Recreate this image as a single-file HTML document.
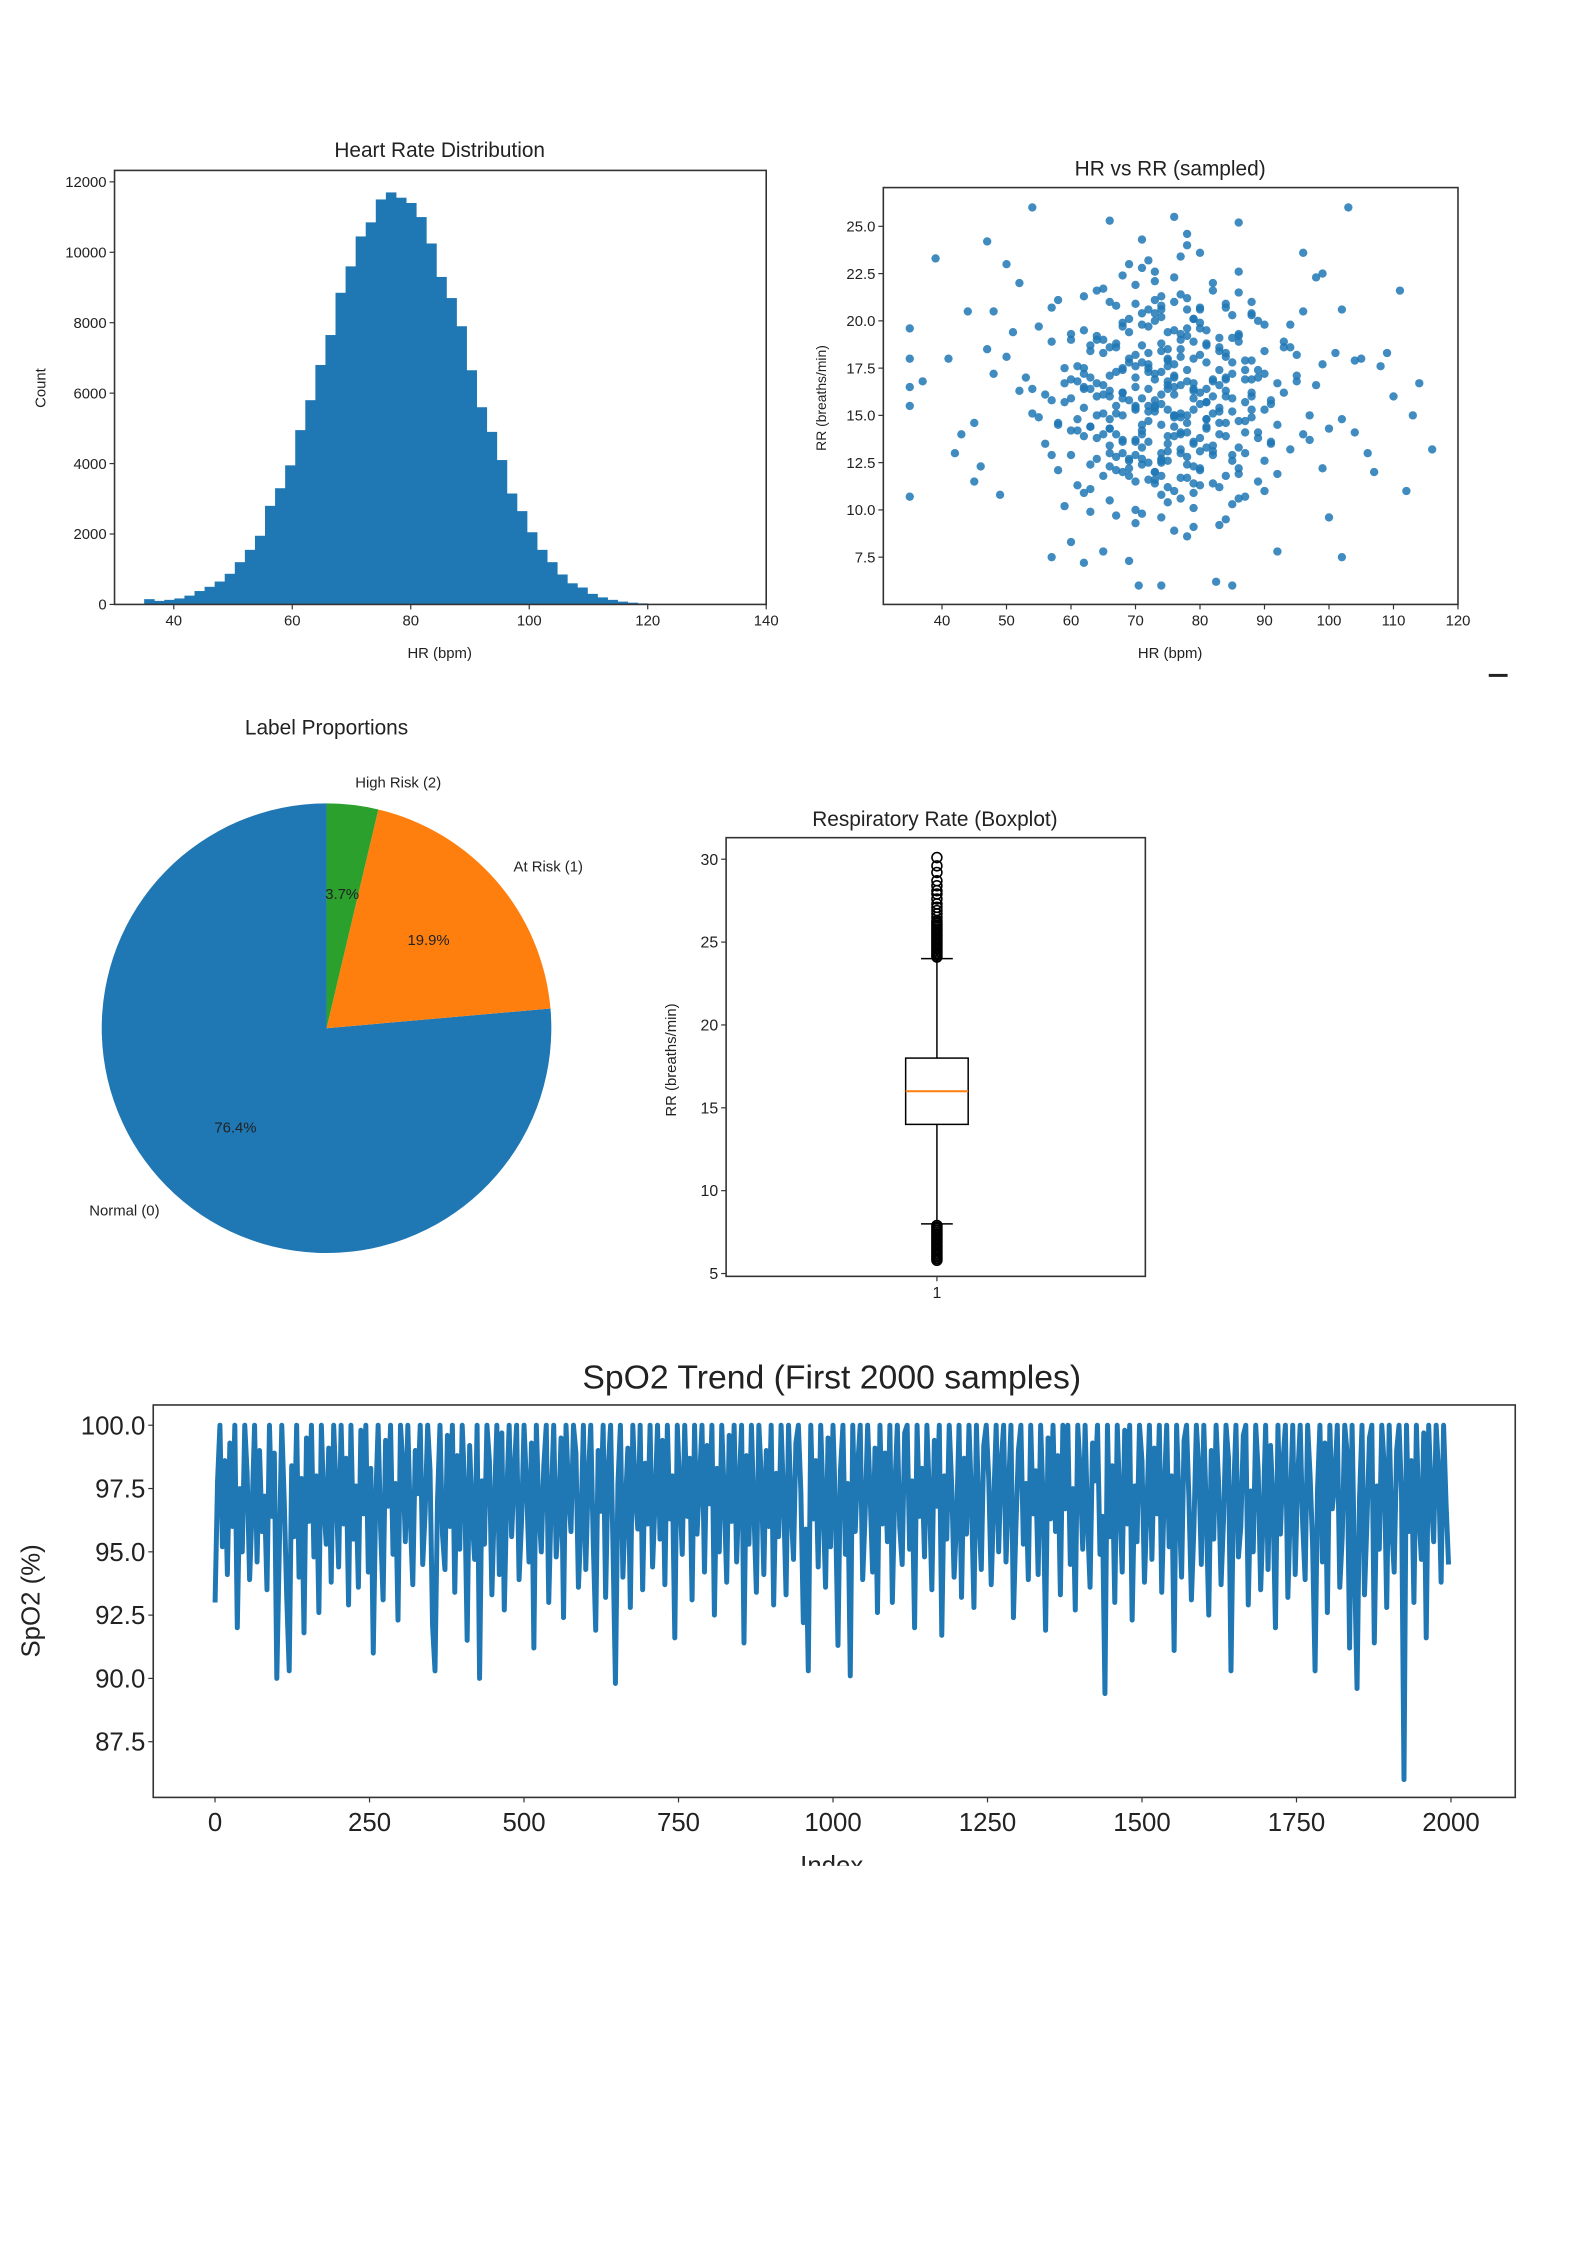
<!DOCTYPE html>
<html><head><meta charset="utf-8"><style>
html,body{margin:0;padding:0;background:#fff;}
svg{display:block;}
text{font-family:"Liberation Sans Narrow","Liberation Sans",sans-serif;fill:#222;}
</style></head><body>
<svg id="fig" width="1587" height="2245" viewBox="0 0 1587 2245" xmlns="http://www.w3.org/2000/svg">
<rect x="0" y="0" width="1587" height="2245" fill="#fff"/>
<g transform="scale(0.9925)">
<g id="hist"></g>
<g id="scat"></g>
<g id="pie"></g>
<g id="box"></g>
<g id="spo2"></g>
<rect x="1500" y="679" width="19" height="3" fill="#222"/>
</g>
</svg>
<script>
const histStart = 35, histBinWidth = 1.7;
const histCounts = [150,100,130,170,250,380,500,650,870,1200,1550,1950,2800,3300,3950,4950,5800,6800,7650,8850,9600,10450,10850,11500,11700,11550,11400,11000,10250,9300,8700,7900,6650,5600,4900,4100,3150,2650,2050,1550,1200,850,600,480,300,200,130,80,50,30];
const histXTicks = [40,60,80,100,120,140];
const histYTicks = [0,2000,4000,6000,8000,10000,12000];

const scatHR = [74,66,81,70,78,62,87,72,76,59, 84,69,91,65,79,73,57,83,68,77, 71,88,63,80,75,54,86,67,78,82, 64,93,72,76,61,85,70,89,58,74, 80,67,96,73,77,62,84,71,52,87, 69,79,75,66,90,74,60,83,72,81, 56,78,88,70,65,94,76,82,63,73, 85,68,77,59,91,72,80,66,99,75, 62,86,71,79,48,83,74,68,89,76, 81,64,92,70,77,57,84,73,67,95, 73,60,87,78,66,82,71,100,75,63, 79,69,85,53,90,74,61,80,72,88, 65,76,83,70,97,58,78,68,86,74, 82,71,64,89,75,50,80,67,93,77, 62,85,73,79,68,102,76,59,84,71, 88,66,78,74,91,63,81,70,55,86, 72,80,67,95,76,60,83,69,78,90, 74,64,87,57,79,71,98,66,82,75, 61,84,70,77,45,89,73,81,68,94, 78,65,86,72,80,58,92,75,63,83, 70,97,76,67,85,73,51,88,79,62, 81,74,66,90,69,77,104,60,84,72, 87,64,79,75,56,82,71,93,68,78, 73,85,61,80,74,96,66,77,89,70, 83,59,76,68,91,72,79,47,86,64, 75,81,69,88,62,78,99,73,58,84, 71,94,65,77,80,54,87,74,67,82, 76,63,90,70,85,79,108,60,73,88, 68,78,55,83,72,92,66,81,75,101, 86,62,74,79,69,95,77,57,84,71, 35,35,35,35,35,54,103,116,114,70.5, 74,82.5,85,39,47,112,111,102,92,37, 41,44,43,46,106,109,110,105,107,113, 66,76,86,62,57,50,52,99,100,104, 42,48,45,49,96,102,98,60,65,69,
72,78,68,83,75,70,80,65,77,86, 74,69,81,63,76,84,71,79,66,73, 77,85,67,72,80,62,75,88,70,82, 69,76,83,74,64,79,87,71,78,66, 81,73,68,86,75,61,77,84,70,79, 65,82,74,78,88,71,67,80,76,63, 75,70,84,66,79,73,86,62,81,77, 72,89,68,76,64,83,74,80,69,85, 78,67,82,71,60,75,87,73,79,65, 84,70,76,63,81,74,68,90,77,72];
const scatRR = [16.1,14.3,17.8,12.9,19.2,15.4,13.0,18.3,15.0,16.7, 14.6,20.1,15.8,11.8,13.6,17.2,18.9,11.2,15.9,21.4, 13.3,17.9,16.4,20.6,10.4,15.1,12.2,18.6,14.1,16.9, 12.7,16.2,19.7,14.9,17.6,20.3,11.5,13.8,14.5,17.3, 12.1,15.5,14.0,22.1,16.6,19.5,17.0,9.8,16.3,15.7, 18.0,10.9,13.9,16.0,18.4,20.8,14.2,19.1,12.5,14.4, 13.5,17.4,21.0,15.3,21.7,13.2,11.0,16.8,18.7,15.8, 12.6,19.9,18.1,10.2,15.6,14.7,13.1,17.1,17.7,19.4, 16.4,10.6,20.4,12.3,17.2,15.2,9.6,13.7,20.0,16.5, 18.8,15.0,11.9,17.6,14.1,20.7,16.0,22.6,12.8,18.2, 11.4,19.3,17.4,21.2,14.8,13.4,15.9,14.3,18.5,11.1, 15.3,23.0,12.9,17.0,19.8,10.8,16.8,23.6,13.6,14.9, 19.0,17.7,18.4,9.3,15.0,14.6,11.7,16.2,21.5,20.2, 15.1,12.4,13.8,11.5,16.6,18.1,19.6,14.0,18.9,13.0, 21.3,17.8,15.5,10.1,12.0,14.8,22.3,17.5,9.5,18.7, 16.9,16.3,20.6,12.7,13.5,14.4,15.7,21.9,19.7,19.3, 17.3,11.3,20.8,17.1,8.9,12.9,18.6,12.2,24.0,11.0, 15.6,16.0,14.1,15.8,16.4,24.3,16.6,10.5,22.0,12.6, 14.2,20.9,13.6,19.0,14.6,17.0,15.2,13.3,22.4,19.8, 8.6,18.3,22.6,11.6,16.2,12.1,16.7,17.9,9.9,15.4, 16.5,13.7,13.9,15.1,10.3,21.1,19.4,20.4,18.0,17.2, 19.5,18.4,12.3,15.3,11.8,14.0,17.9,19.0,11.8,23.2, 10.7,21.6,20.1,16.8,16.1,13.1,14.5,18.6,17.5,12.8, 20.0,15.9,11.3,18.2,12.5,20.5,14.3,23.4,17.4,10.0, 14.6,15.7,17.0,19.7,13.6,15.5,9.1,18.5,11.9,19.2, 13.5,16.4,17.8,20.3,13.9,15.0,12.2,12.0,21.1,16.9, 22.8,18.6,16.6,10.6,19.9,16.4,14.7,18.8,9.7,21.6, 14.4,12.4,12.6,20.9,17.2,11.4,17.6,16.9,15.4,16.0, 13.0,24.6,14.9,9.2,17.5,14.5,21.0,14.8,11.2,18.3, 18.9,10.9,20.6,16.3,12.7,16.8,15.1,12.9,20.7,14.0, 19.6,18.0,16.5,15.5,10.7,26.0,26.0,13.2,16.7,6.0, 6.0,6.2,6.0,23.3,24.2,11.0,21.6,7.5,7.8,16.8, 18.0,20.5,14.0,12.3,13.0,18.3,16.0,18.0,12.0,15.0, 25.3,25.5,25.2,7.2,7.5,23.0,22.0,22.5,9.6,14.1, 13.0,20.5,11.5,10.8,23.6,20.6,22.3,8.3,7.8,7.3,
15.2,16.8,17.4,14.0,13.1,18.2,15.6,16.1,19.3,14.7, 12.6,15.8,18.7,14.4,17.1,16.3,19.8,13.5,13.0,16.9, 14.9,19.1,12.1,17.7,13.8,17.5,18.0,15.3,15.5,12.9, 19.4,15.0,16.6,11.8,16.7,20.1,17.9,14.2,12.4,18.6, 14.3,20.4,13.6,13.3,16.4,14.8,18.5,18.1,17.0,15.9, 15.1,16.0,14.5,19.6,16.2,12.7,17.3,12.2,21.0,18.4, 17.6,15.4,13.9,13.4,18.9,11.6,19.2,16.5,15.7,13.2, 20.6,14.1,16.2,16.1,19.0,17.4,13.0,20.7,12.6,15.2, 14.6,18.8,11.4,17.8,15.9,15.3,16.9,12.0,16.7,14.0, 18.3,13.7,19.5,17.0,14.8,21.3,15.0,17.2,11.7,16.4];
const scatXTicks = [40,50,60,70,80,90,100,110,120];
const scatYTicks = [7.5,10.0,12.5,15.0,17.5,20.0,22.5,25.0];

const pieLabels = ["Normal (0)","At Risk (1)","High Risk (2)"];
const pieValues = [76.4,19.9,3.7];
const pieColors = ["#1f77b4","#ff7f0e","#2ca02c"];

const boxStats = {low:8, q1:14, med:16, q3:18, high:24};
const boxOutliersHigh = [24.1,24.2,24.3,24.4,24.5,24.6,24.7,24.8,24.9,25.0,25.1,25.2,25.3,25.4,25.5,25.6,25.7,25.8,25.9,26.0,26.1,26.2,26.3,26.5,26.7,26.9,27.1,27.3,27.6,27.9,28.1,28.4,28.7,29.2,29.6,30.1];
const boxOutliersLow = [7.9,7.8,7.7,7.6,7.5,7.4,7.3,7.2,7.1,7.0,6.9,6.8,6.7,6.6,6.5,6.4,6.3,6.2,6.1,6.0,5.9,5.8];
const boxYTicks = [5,10,15,20,25,30];

const spo2Step = 4;
const spo2Values = [93.0,97.8,100,95.2,98.6,94.1,99.3,96.0,100,92.0,97.5,95.0,100,98.1,93.9,96.7,100,94.6,99.0,95.8,
97.2,93.5,100,96.4,98.9,90.0,95.1,100,97.0,93.2,90.3,98.4,95.6,100,94.0,97.9,91.8,99.5,96.2,100,
94.8,98.0,92.6,100,96.9,95.3,99.1,93.8,100,97.4,94.4,100,96.1,98.7,92.9,100,95.5,97.6,93.6,99.8,
96.5,100,94.2,98.3,91.0,97.1,100,95.9,93.1,99.4,96.8,100,94.9,97.7,92.3,100,98.5,95.4,100,96.3,
93.7,99.0,97.3,100,94.5,96.6,100,98.2,92.1,90.3,97.0,100,95.7,94.3,99.6,96.0,100,93.4,98.8,95.1,
100,97.5,91.5,99.2,96.4,94.7,100,90.0,97.8,95.3,100,98.6,93.3,96.9,100,94.1,99.7,92.7,97.2,100,
95.6,98.1,100,93.9,96.2,100,97.6,94.6,99.3,91.2,100,96.7,95.0,98.4,100,93.0,97.1,100,94.8,96.5,
99.5,92.4,100,97.4,95.8,100,98.9,93.6,96.0,100,94.3,97.9,100,95.4,91.9,99.0,96.6,100,93.2,98.2,
100,95.2,89.8,97.7,100,94.0,96.8,99.1,92.8,100,97.3,95.9,100,93.5,98.5,96.1,100,94.4,97.0,100,
95.5,99.4,93.7,100,96.3,98.0,91.6,100,97.5,94.9,100,96.4,98.7,93.1,100,95.7,97.8,100,94.2,99.2,
96.9,100,92.5,98.3,95.0,100,97.2,93.8,99.6,96.2,100,94.6,97.6,100,91.4,98.8,95.3,100,96.6,93.4,
100,97.9,94.1,99.0,96.0,100,92.9,98.1,95.6,100,97.1,93.3,100,96.8,94.7,99.3,100,97.4,92.2,95.9,
90.3,100,96.3,98.6,94.4,100,97.0,93.6,99.5,95.2,100,96.7,91.3,98.2,100,94.9,97.7,90.1,100,95.8,
98.4,100,93.9,96.5,100,97.3,94.2,99.1,92.6,100,96.1,98.9,95.4,100,93.0,97.5,100,96.0,94.5,99.7,
100,95.1,97.8,92.0,100,96.4,98.3,94.8,100,97.2,93.5,99.4,96.8,100,91.7,98.0,95.5,100,97.6,94.0,
96.2,100,93.2,98.7,95.7,100,97.1,92.8,100,96.6,94.3,99.2,100,97.9,93.7,96.9,100,95.0,98.5,100,
94.6,97.4,100,92.4,96.0,99.0,100,95.3,97.7,93.9,100,96.5,98.2,94.1,100,97.0,91.9,99.5,96.3,100,
95.8,98.8,93.3,100,96.7,100,94.5,97.5,92.7,100,98.1,95.1,100,96.2,93.6,99.3,97.8,100,94.9,96.4,
89.4,100,95.6,98.4,93.0,100,97.0,94.2,99.8,96.1,100,92.3,97.6,95.4,100,98.6,93.8,96.8,100,94.7,
99.1,96.5,100,93.4,97.3,100,95.2,98.0,91.1,100,96.9,94.0,99.4,100,97.1,93.1,95.9,100,98.3,94.5,
100,96.6,92.5,99.0,95.5,100,97.7,93.7,96.3,100,98.7,90.3,97.2,100,94.8,96.0,99.6,100,92.9,97.4,
95.0,100,98.2,93.5,96.4,100,94.3,99.2,97.0,92.0,100,95.7,98.5,100,93.2,96.8,100,94.1,97.9,100,
96.1,93.9,100,98.0,95.3,90.3,97.5,100,94.6,99.3,92.6,100,96.7,97.8,100,93.6,95.6,100,98.9,91.2,
100,94.4,89.6,97.1,100,93.3,96.2,99.5,100,91.4,97.6,95.1,100,98.4,92.8,100,96.0,94.2,99.0,100,
97.3,86.0,100,95.8,98.6,93.0,100,96.5,94.7,99.7,91.6,100,97.2,95.4,100,98.1,93.8,100,96.9,94.5];
const spo2XTicks = [0,250,500,750,1000,1250,1500,1750,2000];
const spo2YTicks = [87.5,90.0,92.5,95.0,97.5,100.0];

const NS = "http://www.w3.org/2000/svg";
function mk(parent, tag, attrs, txt){
  const e = document.createElementNS(NS, tag);
  for (const k in attrs) e.setAttribute(k, attrs[k]);
  if (txt !== undefined) e.textContent = txt;
  parent.appendChild(e);
  return e;
}
function frame(g, x0, y0, x1, y1){
  const r = mk(g,'rect',{x:x0,y:y0,width:x1-x0,height:y1-y0,fill:'none',stroke:'#333','stroke-width':1.6});
  
  
}
function xTicks(g, ticks, sx, yb, fs, fmt, off){
  ticks.forEach(t=>{
    const x = sx(t);
    mk(g,'line',{x1:x,y1:yb,x2:x,y2:yb+5,stroke:'#333','stroke-width':1.2});
    const tx = mk(g,'text',{x:x,y:yb+off,'font-size':fs,'text-anchor':'middle'},fmt(t));
    
    
  });
}
function yTicks(g, ticks, sy, xl, fs, fmt){
  ticks.forEach(t=>{
    const y = sy(t);
    mk(g,'line',{x1:xl,y1:y,x2:xl-5,y2:y,stroke:'#333','stroke-width':1.2});
    const tx = mk(g,'text',{x:xl-8,y:y+fs*0.35,'font-size':fs,'text-anchor':'end'},fmt(t));
    
    
  });
}
function title(g, x, y, fs, s, name){
  const t = mk(g,'text',{x:x,y:y,'font-size':fs,'text-anchor':'middle'},s);
  
  
}
function ylabel(g, x, y, fs, s, name){
  const t = mk(g,'text',{x:x,y:y,'font-size':fs,'text-anchor':'middle',transform:`rotate(-90 ${x} ${y})`},s);
  
  
}

// Histogram
(function(){
  const g = document.getElementById('hist');
  const X0=115.4,X1=772,Y0=171.7,Y1=609;
  const sx = v => X0 + (v-30)/110*(X1-X0);
  const sy = v => Y1 - v/12325*(Y1-Y0);
  histCounts.forEach((c,i)=>{
    const a = histStart + i*histBinWidth, b = a + histBinWidth;
    const r = mk(g,'rect',{x:sx(a),y:sy(c),width:sx(b)-sx(a)+0.5,height:Y1-sy(c),fill:'#1f77b4'});
    
    
  });
  frame(g,X0,Y0,X1,Y1);
  xTicks(g,histXTicks,sx,Y1,15,t=>t,21);
  yTicks(g,histYTicks,sy,X0,15,t=>t);
  title(g,443,158,21,'Heart Rate Distribution','hist-title');
  title(g,443,663,15,'HR (bpm)','hist-x-axis-title');
  ylabel(g,46,391,15,'Count','hist-y-axis-title');
})();

// Scatter
(function(){
  const g = document.getElementById('scat');
  const X0=890,X1=1469,Y0=189,Y1=609;
  const sx = v => X0 + (v-30.9)/(120-30.9)*(X1-X0);
  const sy = v => Y1 - (v-5.0)/(27.05-5.0)*(Y1-Y0);
  scatHR.forEach((h,i)=>{
    const c = mk(g,'circle',{cx:sx(h),cy:sy(scatRR[i]),r:4.2,fill:'#1f77b4','fill-opacity':0.85});
    
    
  });
  frame(g,X0,Y0,X1,Y1);
  xTicks(g,scatXTicks,sx,Y1,15,t=>t,21);
  yTicks(g,scatYTicks,sy,X0,15,t=>t.toFixed(1));
  title(g,1179,177,21,'HR vs RR (sampled)','scatter-title');
  title(g,1179,663,15,'HR (bpm)','scatter-x-axis-title');
  ylabel(g,832,401,14,'RR (breaths/min)','scatter-y-axis-title');
})();

// Pie
(function(){
  const g = document.getElementById('pie');
  const cx=329, cy=1036, R=226.5;
  const total = pieValues.reduce((a,b)=>a+b,0);
  let ang = 90;
  pieValues.forEach((v,i)=>{
    const sweep = v/total*360;
    const a0 = ang*Math.PI/180, a1 = (ang+sweep)*Math.PI/180;
    const x0 = cx+R*Math.cos(a0), y0 = cy-R*Math.sin(a0);
    const x1 = cx+R*Math.cos(a1), y1 = cy-R*Math.sin(a1);
    const large = sweep>180?1:0;
    const p = mk(g,'path',{d:`M${cx},${cy} L${x0},${y0} A${R},${R} 0 ${large} 0 ${x1},${y1} Z`,fill:pieColors[i]});
    
    
    const mid = (ang+sweep/2)*Math.PI/180;
    const lx = cx+1.1*R*Math.cos(mid), ly = cy-1.1*R*Math.sin(mid);
    const lt = mk(g,'text',{x:lx,y:ly+5,'font-size':15,'text-anchor':Math.cos(mid)<0?'end':'start'},pieLabels[i]);
    
    
    const px = cx+0.6*R*Math.cos(mid), py = cy-0.6*R*Math.sin(mid);
    const pt = mk(g,'text',{x:px,y:py+5,'font-size':15,'text-anchor':'middle'},v.toFixed(1)+'%');
    
    
    ang += sweep;
  });
  title(g,329,740,21,'Label Proportions','pie-title');
})();

// Boxplot
(function(){
  const g = document.getElementById('box');
  const X0=731.6,X1=1154,Y0=844,Y1=1286;
  const sy = v => Y1 - (v-4.83)/(31.3-4.83)*(Y1-Y0);
  const cx = 944, bw = 63, cw = 32;
  mk(g,'line',{x1:cx,y1:sy(boxStats.q3),x2:cx,y2:sy(boxStats.high),stroke:'#000','stroke-width':1.5});
  mk(g,'line',{x1:cx,y1:sy(boxStats.q1),x2:cx,y2:sy(boxStats.low),stroke:'#000','stroke-width':1.5});
  mk(g,'line',{x1:cx-cw/2,y1:sy(boxStats.high),x2:cx+cw/2,y2:sy(boxStats.high),stroke:'#000','stroke-width':1.5});
  mk(g,'line',{x1:cx-cw/2,y1:sy(boxStats.low),x2:cx+cw/2,y2:sy(boxStats.low),stroke:'#000','stroke-width':1.5});
  const b = mk(g,'rect',{x:cx-bw/2,y:sy(boxStats.q3),width:bw,height:sy(boxStats.q1)-sy(boxStats.q3),fill:'#fff',stroke:'#000','stroke-width':1.5});
  
  
  mk(g,'line',{x1:cx-bw/2,y1:sy(boxStats.med),x2:cx+bw/2,y2:sy(boxStats.med),stroke:'#ff7f0e','stroke-width':2});
  boxOutliersHigh.concat(boxOutliersLow).forEach(v=>{
    const c = mk(g,'circle',{cx:cx,cy:sy(v),r:5,fill:'none',stroke:'#000','stroke-width':1.6});
    
    
  });
  frame(g,X0,Y0,X1,Y1);
  yTicks(g,boxYTicks,sy,X0,16,t=>t);
  xTicks(g,[1],()=>cx,Y1,16,t=>t,22);
  title(g,942,832,21,'Respiratory Rate (Boxplot)','boxplot-title');
  ylabel(g,681,1068,15,'RR (breaths/min)','boxplot-y-axis-title');
})();

// SpO2
(function(){
  const g = document.getElementById('spo2');
  const X0=154.4,X1=1526.7,Y0=1415.6,Y1=1811;
  const sx = v => X0 + (v+100)/2204*(X1-X0);
  const sy = v => Y1 - (v-85.3)/(100.8-85.3)*(Y1-Y0);
  const pts = spo2Values.map((v,i)=>sx(i*spo2Step).toFixed(1)+','+sy(v).toFixed(1)).join(' ');
  const pl = mk(g,'polyline',{points:pts,fill:'none',stroke:'#1f77b4','stroke-width':5,'stroke-linejoin':'round'});
  
  
  frame(g,X0,Y0,X1,Y1);
  xTicks(g,spo2XTicks,sx,Y1,26,t=>t,34);
  yTicks(g,spo2YTicks,sy,X0,26,t=>t.toFixed(1));
  title(g,838,1399,34,'SpO2 Trend (First 2000 samples)','spo2-title');
  ylabel(g,40,1613,26,'SpO2 (%)','spo2-y-axis-title');
  const cl = mk(g,'clipPath',{id:'idxclip'});
  mk(cl,'rect',{x:0,y:0,width:1600,height:1880});
  const t = mk(g,'text',{x:838,y:1888,'font-size':26,'text-anchor':'middle','clip-path':'url(#idxclip)'},'Index');
  
  
})();
</script>
</body></html>
